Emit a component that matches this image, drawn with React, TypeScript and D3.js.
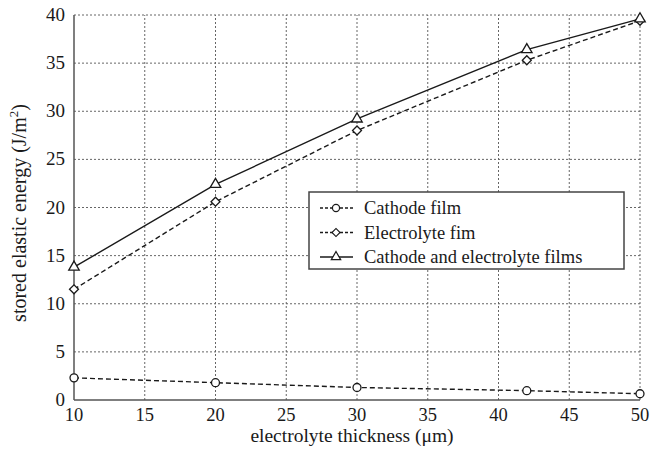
import { useRef, useEffect } from 'react';
import * as d3 from 'd3';

const WIDTH = 650;
const HEIGHT = 452;
const MARGIN = { top: 15, right: 10, bottom: 52, left: 74 };
const INK = '#1a1a1a';
const FONT = 'Liberation Serif, DejaVu Serif, serif';

const thickness = [10, 20, 30, 42, 50];
const cathodeFilm = [2.3, 1.8, 1.3, 0.97, 0.65];
const electrolyteFilm = [11.5, 20.6, 28.0, 35.3, 39.4];
const bothFilms = [13.8, 22.4, 29.2, 36.4, 39.6];

const xTicks = [10, 15, 20, 25, 30, 35, 40, 45, 50];
const yTicks = [0, 5, 10, 15, 20, 25, 30, 35, 40];

const seriesNames = ['Cathode film', 'Electrolyte fim', 'Cathode and electrolyte films'];

function App() {
  const svgRef = useRef<SVGSVGElement>(null);

  useEffect(() => {
    const svg = d3.select(svgRef.current);
    svg.selectAll('*').remove();

    const x = d3.scaleLinear().domain([10, 50]).range([MARGIN.left, WIDTH - MARGIN.right]);
    const y = d3.scaleLinear().domain([0, 40]).range([HEIGHT - MARGIN.bottom, MARGIN.top]);

    const g = svg.append('g').style('font-family', FONT);

    // Grid
    g.append('g')
      .selectAll('line')
      .data(xTicks.slice(1))
      .join('line')
      .attr('x1', d => x(d)).attr('x2', d => x(d))
      .attr('y1', y(0)).attr('y2', y(40))
      .attr('stroke', '#666').attr('stroke-width', 1).attr('stroke-dasharray', '2,2');
    g.append('g')
      .selectAll('line')
      .data(yTicks.slice(1))
      .join('line')
      .attr('x1', x(10)).attr('x2', x(50))
      .attr('y1', d => y(d)).attr('y2', d => y(d))
      .attr('stroke', '#666').attr('stroke-width', 1).attr('stroke-dasharray', '2,2');

    // Axes
    g.append('line')
      .attr('x1', x(10)).attr('x2', x(10)).attr('y1', y(0)).attr('y2', y(40))
      .attr('stroke', '#555').attr('stroke-width', 1.5);
    g.append('line')
      .attr('x1', x(10)).attr('x2', x(50)).attr('y1', y(0)).attr('y2', y(0))
      .attr('stroke', '#555').attr('stroke-width', 1.5);

    // Tick labels
    g.append('g')
      .selectAll('text')
      .data(xTicks)
      .join('text')
      .attr('x', d => x(d)).attr('y', y(0) + 21)
      .attr('text-anchor', 'middle')
      .attr('font-size', 18.5).attr('fill', INK)
      .text(d => d);
    g.append('g')
      .selectAll('text')
      .data(yTicks)
      .join('text')
      .attr('x', x(10) - 9).attr('y', d => y(d) + 6)
      .attr('text-anchor', 'end')
      .attr('font-size', 19).attr('fill', INK)
      .text(d => d);

    // Axis titles
    g.append('text')
      .attr('x', 352).attr('y', HEIGHT - 10)
      .attr('text-anchor', 'middle')
      .attr('font-size', 19.5).attr('fill', INK)
      .text('electrolyte thickness (μm)');
    const yt = g.append('text')
      .attr('transform', 'translate(26,213) rotate(-90)')
      .attr('text-anchor', 'middle')
      .attr('font-size', 20).attr('fill', INK);
    yt.append('tspan').text('stored elastic energy (J/m');
    yt.append('tspan').attr('font-size', 13).attr('dy', -8).text('2');
    yt.append('tspan').attr('dy', 8).text(')');

    const series = [
      { values: cathodeFilm, dash: '5,3', marker: d3.symbolCircle, size: 50, rot: 0 },
      { values: electrolyteFilm, dash: '5,3', marker: d3.symbolSquare, size: 40, rot: 45 },
      { values: bothFilms, dash: null, marker: d3.symbolTriangle, size: 48, rot: 0 },
    ];

    const line = d3.line<number>()
      .x((_, i) => x(thickness[i]))
      .y(d => y(d));

    series.forEach(s => {
      g.append('path')
        .attr('d', line(s.values))
        .attr('fill', 'none')
        .attr('stroke', INK)
        .attr('stroke-width', 1.4)
        .attr('stroke-dasharray', s.dash);
      g.append('g')
        .selectAll('path')
        .data(s.values)
        .join('path')
        .attr('transform', (d, i) => `translate(${x(thickness[i])},${y(d)}) rotate(${s.rot})`)
        .attr('d', d3.symbol().type(s.marker).size(s.size)())
        .attr('fill', 'white')
        .attr('stroke', INK)
        .attr('stroke-width', 1.3);
    });

    // Legend
    const legend = g.append('g').attr('transform', 'translate(309,192)');
    legend.append('rect')
      .attr('width', 315).attr('height', 77)
      .attr('fill', 'white').attr('stroke', '#444').attr('stroke-width', 1.5);
    series.forEach((s, i) => {
      const row = legend.append('g').attr('transform', `translate(0,${16 + i * 24.5})`);
      row.append('line')
        .attr('x1', 11).attr('x2', 44).attr('y1', 0).attr('y2', 0)
        .attr('stroke', INK).attr('stroke-width', 1.4)
        .attr('stroke-dasharray', s.dash ? '3,2' : null);
      row.append('path')
        .attr('transform', `translate(27,0) rotate(${s.rot})`)
        .attr('d', d3.symbol().type(s.marker).size(s.size * 0.8)())
        .attr('fill', 'white').attr('stroke', INK).attr('stroke-width', 1.2);
      row.append('text')
        .attr('x', 55).attr('y', 6)
        .attr('font-size', 18.5).attr('fill', INK)
        .text(seriesNames[i]);
    });
  }, []);

  return (
    <svg
      ref={svgRef}
      width={WIDTH}
      height={HEIGHT}
      style={{ position: 'absolute', left: 0, top: 0, background: 'white' }}
    />
  );
}

export default App;
